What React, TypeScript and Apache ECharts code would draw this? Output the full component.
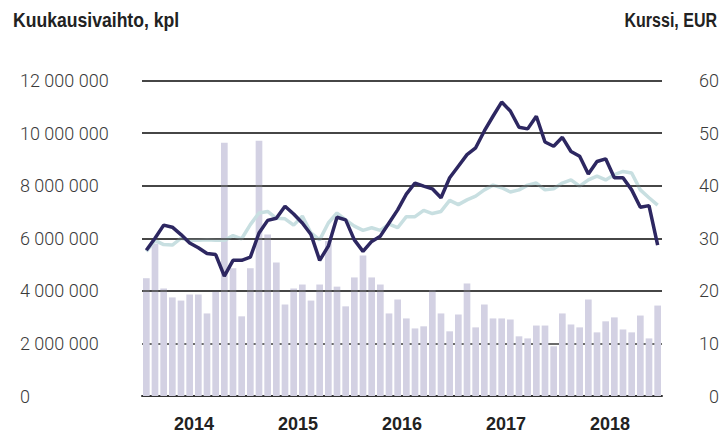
import React, { useEffect, useRef } from "react";
import * as echarts from "echarts";

const years = ["2014", "2015", "2016", "2017", "2018"];
const monthNames = ["01", "02", "03", "04", "05", "06", "07", "08", "09", "10", "11", "12"];
const months = years.flatMap((y) => monthNames.map((m) => `${y}-${m}`));

// Monthly trading volume (pcs)
const volume = [
  4480000, 5800000, 4090000, 3750000, 3630000, 3860000, 3860000, 3140000, 3960000, 9630000, 4860000, 3030000,
  4860000, 9710000, 6140000, 5080000, 3480000, 4090000, 4240000, 3630000, 4240000, 5900000, 4160000, 3410000,
  4510000, 5340000, 4510000, 4240000, 3140000, 3670000, 2950000, 2570000, 2650000, 4030000, 3140000, 2460000,
  3100000, 4280000, 2610000, 3480000, 2950000, 2950000, 2910000, 2270000, 2190000, 2680000, 2680000, 1890000,
  3140000, 2720000, 2610000, 3670000, 2420000, 2840000, 2990000, 2530000, 2420000, 3060000, 2190000, 3440000,
];

// Share price, EUR
const price = [
  27.7, 30.0, 32.5, 32.1, 30.7, 29.1, 28.2, 27.1, 26.9, 22.8, 25.8, 25.8,
  26.4, 31.0, 33.4, 33.8, 36.1, 34.6, 32.9, 30.7, 25.8, 28.5, 34.0, 33.5,
  29.7, 27.5, 29.4, 30.4, 32.9, 35.4, 38.4, 40.5, 39.9, 39.4, 37.7, 41.5,
  43.7, 45.9, 47.2, 50.4, 53.2, 55.9, 54.2, 51.1, 50.8, 53.2, 48.3, 47.5,
  49.2, 46.5, 45.6, 42.2, 44.6, 45.1, 41.5, 41.5, 39.2, 35.9, 36.2, 28.7,
];

// Comparison index (scaled to EUR axis)
const index = [
  27.5, 29.6, 28.8, 28.7, 30.0, 29.6, 29.6, 29.7, 29.6, 29.6, 30.5, 29.9,
  32.6, 34.8, 35.1, 33.8, 33.7, 32.5, 34.2, 31.0, 29.7, 32.9, 34.8, 33.5,
  32.3, 31.5, 32.0, 31.5, 32.7, 32.0, 34.1, 34.1, 35.3, 34.7, 35.1, 37.2,
  36.4, 37.3, 38.0, 39.2, 40.1, 39.6, 38.8, 39.2, 40.1, 40.5, 39.2, 39.4,
  40.5, 41.1, 39.9, 41.1, 41.8, 41.1, 42.1, 42.7, 42.4, 39.2, 37.7, 36.3,
];

const overlayGridValues = [4000000, 6000000, 8000000, 10000000, 12000000];

const GRID_COLOR = "#3a3a3a";
const fmtSpace = (v: number) => String(v).replace(/\B(?=(\d{3})+(?!\d))/g, " ");

export default function App() {
  const ref = useRef<HTMLDivElement>(null);
  useEffect(() => {
    if (!ref.current) return;
    const chart = echarts.init(ref.current, undefined, { renderer: "svg" });
    chart.setOption({
      animation: false,
      backgroundColor: "#ffffff",
      grid: { left: 142, right: 62, top: 80.5, bottom: 40 },
      graphic: [
        {
          type: "text",
          x: 13,
          y: 20,
          scaleX: 0.88,
          style: {
            text: "Kuukausivaihto, kpl",
            fontFamily: "'Liberation Sans', Arial, sans-serif",
            fontWeight: "bold",
            fontSize: 20,
            fill: "#222222",
            align: "left",
            verticalAlign: "middle",
          },
        },
        {
          type: "text",
          x: 717,
          y: 20,
          scaleX: 0.8,
          style: {
            text: "Kurssi, EUR",
            fontFamily: "'Liberation Sans', Arial, sans-serif",
            fontWeight: "bold",
            fontSize: 20,
            fill: "#222222",
            align: "right",
            verticalAlign: "middle",
          },
        },
      ],
      xAxis: [
        {
          type: "category",
          data: months,
          boundaryGap: true,
          axisLine: { show: true, lineStyle: { color: "#333333", width: 2 } },
          axisTick: { show: false },
          axisLabel: { show: false },
          splitLine: { show: false },
        },
        {
          type: "category",
          data: years,
          position: "bottom",
          boundaryGap: true,
          axisLine: { show: false },
          axisTick: { show: false },
          axisLabel: {
            show: true,
            margin: 19,
            fontFamily: "'Liberation Sans', Arial, sans-serif",
            fontWeight: "bold",
            fontSize: 18,
            color: "#222222",
          },
          splitLine: { show: false },
        },
      ],
      yAxis: [
        {
          type: "value",
          min: 0,
          max: 12000000,
          interval: 2000000,
          axisLine: { show: false },
          axisTick: { show: false },
          axisLabel: {
            align: "left",
            margin: 122,
            formatter: (v: number) => fmtSpace(v),
            fontFamily: "Roboto, 'Liberation Sans', sans-serif",
            fontWeight: 300,
            fontSize: 18,
            color: "#3a3a3a",
          },
          splitLine: { show: true, lineStyle: { color: GRID_COLOR, width: 1.5 } },
        },
        {
          type: "value",
          min: 0,
          max: 60,
          interval: 10,
          position: "right",
          axisLine: { show: false },
          axisTick: { show: false },
          axisLabel: {
            align: "right",
            margin: 57,
            fontFamily: "Roboto, 'Liberation Sans', sans-serif",
            fontWeight: 300,
            fontSize: 18,
            color: "#3a3a3a",
          },
          splitLine: { show: false },
        },
      ],
      series: [
        {
          name: "Kuukausivaihto",
          type: "bar",
          xAxisIndex: 0,
          yAxisIndex: 0,
          data: volume,
          barCategoryGap: "23%",
          itemStyle: { color: "#d3d1e3" },
          z: 2,
        },
        {
          name: "grid-overlay",
          type: "line",
          xAxisIndex: 0,
          yAxisIndex: 0,
          data: [],
          z: 3,
          silent: true,
          markLine: {
            silent: true,
            symbol: ["none", "none"],
            label: { show: false },
            lineStyle: { color: GRID_COLOR, width: 1.5, type: "solid" },
            data: overlayGridValues.map((v) => ({ yAxis: v })),
          },
        },
        {
          name: "Indeksi",
          type: "line",
          xAxisIndex: 0,
          yAxisIndex: 1,
          data: index,
          symbol: "none",
          lineStyle: { color: "#c8dfe1", width: 3.5 },
          z: 4,
        },
        {
          name: "Kurssi",
          type: "line",
          xAxisIndex: 0,
          yAxisIndex: 1,
          data: price,
          symbol: "none",
          lineStyle: { color: "#2d2761", width: 3.5 },
          z: 5,
        },
      ],
    });
    return () => chart.dispose();
  }, []);
  return (
    <div
      ref={ref}
      style={{ position: "fixed", left: 0, top: 0, width: 724, height: 436, background: "#fff" }}
    />
  );
}
